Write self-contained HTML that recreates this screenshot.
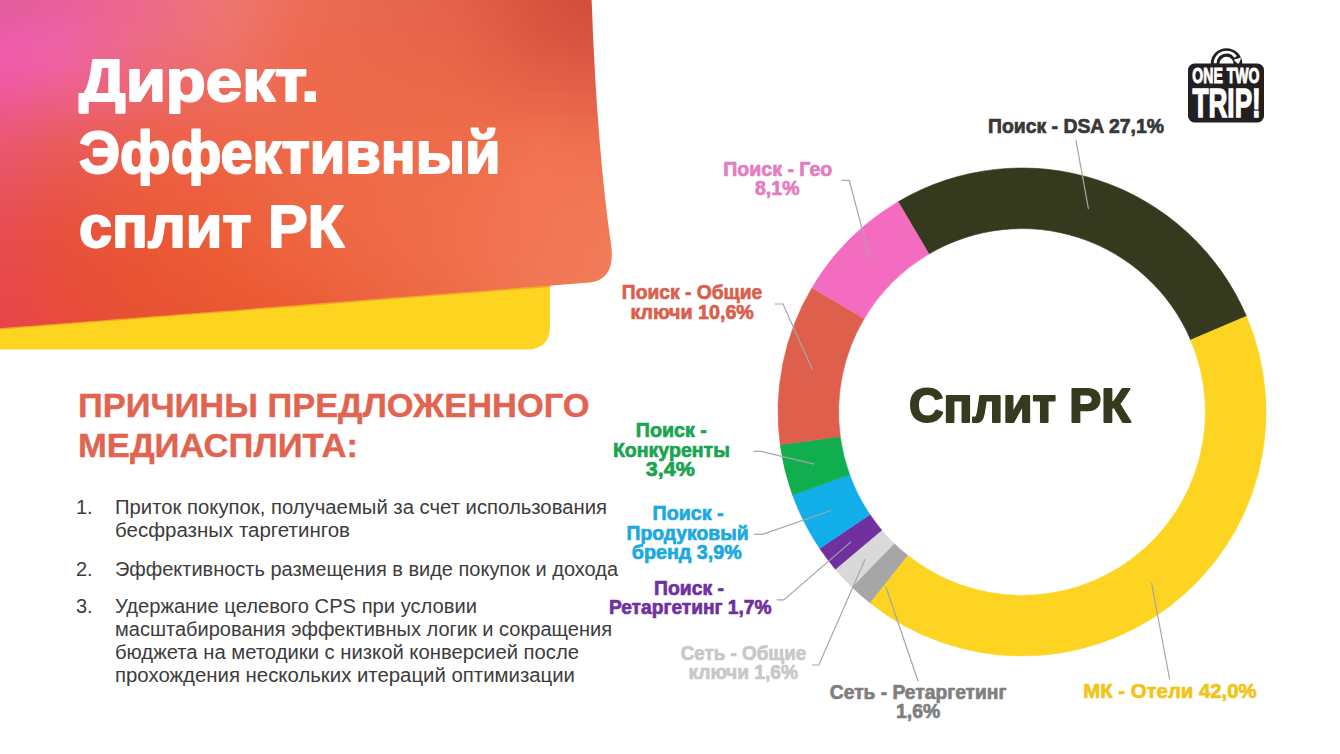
<!DOCTYPE html>
<html><head><meta charset="utf-8">
<style>
html,body{margin:0;padding:0;background:#fff;width:1340px;height:754px;overflow:hidden}
svg{display:block}
text{font-family:"Liberation Sans",sans-serif}
</style></head>
<body>
<svg width="1340" height="754" viewBox="0 0 1340 754">
<defs>
  <linearGradient id="gbase" x1="0" y1="0" x2="1" y2="1">
    <stop offset="0" stop-color="#ec6480"/>
    <stop offset="0.5" stop-color="#ee6548"/>
    <stop offset="1" stop-color="#f37a56"/>
  </linearGradient>
  <radialGradient id="gpink" cx="10" cy="80" r="200" gradientUnits="userSpaceOnUse">
    <stop offset="0" stop-color="#f05cb0" stop-opacity="1"/>
    <stop offset="1" stop-color="#f05cb0" stop-opacity="0"/>
  </radialGradient>
  <radialGradient id="gdark" cx="560" cy="20" r="220" gradientUnits="userSpaceOnUse">
    <stop offset="0" stop-color="#d04a3a" stop-opacity="1"/>
    <stop offset="1" stop-color="#d04a3a" stop-opacity="0"/>
  </radialGradient>
  <radialGradient id="gred" cx="0" cy="320" r="220" gradientUnits="userSpaceOnUse">
    <stop offset="0" stop-color="#e8404a" stop-opacity="1"/>
    <stop offset="1" stop-color="#e8404a" stop-opacity="0"/>
  </radialGradient>
  <clipPath id="hclip"><path id="hpath" d="M0 0 L591.6 0 Q597 150 611.5 248 Q614.5 279.5 590 282.5 L0 328.3 Z"/></clipPath>
</defs>

<!-- yellow -->
<path d="M0 270 L550 270 L550 326 Q550 349.5 526.5 349.5 L0 349.5 Z" fill="#fdd520"/>
<path d="M0 328.9 L551 286.2" stroke="#e0742a" stroke-opacity="0.45" stroke-width="1.4" fill="none"/>
<!-- header -->
<g id="hdr" clip-path="url(#hclip)">
<defs><linearGradient id="s0" x1="0" y1="0" x2="610" y2="0" gradientUnits="userSpaceOnUse"><stop offset="0.000" stop-color="#e05e9a"/><stop offset="0.098" stop-color="#ea5e9e"/><stop offset="0.246" stop-color="#ec6a88"/><stop offset="0.377" stop-color="#ee7670"/><stop offset="0.492" stop-color="#ec6c56"/><stop offset="0.738" stop-color="#e4624c"/><stop offset="0.885" stop-color="#d8543e"/><stop offset="1.000" stop-color="#d04a3a"/></linearGradient>
<linearGradient id="s1" x1="0" y1="0" x2="610" y2="0" gradientUnits="userSpaceOnUse"><stop offset="0.000" stop-color="#e15e9c"/><stop offset="0.098" stop-color="#ea5e9f"/><stop offset="0.246" stop-color="#ec6a87"/><stop offset="0.377" stop-color="#ee766f"/><stop offset="0.492" stop-color="#ec6c55"/><stop offset="0.738" stop-color="#e4624c"/><stop offset="0.885" stop-color="#d9553e"/><stop offset="1.000" stop-color="#d14b3b"/></linearGradient>
<linearGradient id="s2" x1="0" y1="0" x2="610" y2="0" gradientUnits="userSpaceOnUse"><stop offset="0.000" stop-color="#e35d9e"/><stop offset="0.098" stop-color="#eb5fa0"/><stop offset="0.246" stop-color="#ec6a87"/><stop offset="0.377" stop-color="#ee756f"/><stop offset="0.492" stop-color="#ec6c55"/><stop offset="0.738" stop-color="#e5634b"/><stop offset="0.885" stop-color="#d9553f"/><stop offset="1.000" stop-color="#d24c3b"/></linearGradient>
<linearGradient id="s3" x1="0" y1="0" x2="610" y2="0" gradientUnits="userSpaceOnUse"><stop offset="0.000" stop-color="#e45da0"/><stop offset="0.098" stop-color="#eb5fa1"/><stop offset="0.246" stop-color="#ec6a86"/><stop offset="0.377" stop-color="#ee756e"/><stop offset="0.492" stop-color="#ec6c54"/><stop offset="0.738" stop-color="#e5634b"/><stop offset="0.885" stop-color="#da553f"/><stop offset="1.000" stop-color="#d24d3c"/></linearGradient>
<linearGradient id="s4" x1="0" y1="0" x2="610" y2="0" gradientUnits="userSpaceOnUse"><stop offset="0.000" stop-color="#e65da3"/><stop offset="0.098" stop-color="#ec60a2"/><stop offset="0.246" stop-color="#ec6a85"/><stop offset="0.377" stop-color="#ee746e"/><stop offset="0.492" stop-color="#ed6b53"/><stop offset="0.738" stop-color="#e6634b"/><stop offset="0.885" stop-color="#da5640"/><stop offset="1.000" stop-color="#d34e3d"/></linearGradient>
<linearGradient id="s5" x1="0" y1="0" x2="610" y2="0" gradientUnits="userSpaceOnUse"><stop offset="0.000" stop-color="#e85ca5"/><stop offset="0.098" stop-color="#ec60a3"/><stop offset="0.246" stop-color="#ec6b85"/><stop offset="0.377" stop-color="#ee746d"/><stop offset="0.492" stop-color="#ed6b53"/><stop offset="0.738" stop-color="#e6634a"/><stop offset="0.885" stop-color="#db5640"/><stop offset="1.000" stop-color="#d44f3e"/></linearGradient>
<linearGradient id="s6" x1="0" y1="0" x2="610" y2="0" gradientUnits="userSpaceOnUse"><stop offset="0.000" stop-color="#e95ca8"/><stop offset="0.098" stop-color="#ed61a4"/><stop offset="0.246" stop-color="#ec6b84"/><stop offset="0.377" stop-color="#ee736d"/><stop offset="0.492" stop-color="#ed6b52"/><stop offset="0.738" stop-color="#e7644a"/><stop offset="0.885" stop-color="#db5741"/><stop offset="1.000" stop-color="#d5503f"/></linearGradient>
<linearGradient id="s7" x1="0" y1="0" x2="610" y2="0" gradientUnits="userSpaceOnUse"><stop offset="0.000" stop-color="#eb5caa"/><stop offset="0.098" stop-color="#ed61a4"/><stop offset="0.246" stop-color="#ec6b83"/><stop offset="0.377" stop-color="#ee736c"/><stop offset="0.492" stop-color="#ed6b51"/><stop offset="0.738" stop-color="#e86449"/><stop offset="0.885" stop-color="#dc5841"/><stop offset="1.000" stop-color="#d75140"/></linearGradient>
<linearGradient id="s8" x1="0" y1="0" x2="610" y2="0" gradientUnits="userSpaceOnUse"><stop offset="0.000" stop-color="#ec5bac"/><stop offset="0.098" stop-color="#ed62a5"/><stop offset="0.246" stop-color="#ec6b81"/><stop offset="0.377" stop-color="#ee726b"/><stop offset="0.492" stop-color="#ee6a50"/><stop offset="0.738" stop-color="#e86549"/><stop offset="0.885" stop-color="#dd5842"/><stop offset="1.000" stop-color="#d85341"/></linearGradient>
<linearGradient id="s9" x1="0" y1="0" x2="610" y2="0" gradientUnits="userSpaceOnUse"><stop offset="0.000" stop-color="#ee5bad"/><stop offset="0.098" stop-color="#ee62a4"/><stop offset="0.246" stop-color="#ec6b80"/><stop offset="0.377" stop-color="#ee726a"/><stop offset="0.492" stop-color="#ee6a50"/><stop offset="0.738" stop-color="#e96549"/><stop offset="0.885" stop-color="#de5942"/><stop offset="1.000" stop-color="#d95442"/></linearGradient>
<linearGradient id="s10" x1="0" y1="0" x2="610" y2="0" gradientUnits="userSpaceOnUse"><stop offset="0.000" stop-color="#ef5bad"/><stop offset="0.098" stop-color="#ee62a3"/><stop offset="0.246" stop-color="#ec6a7e"/><stop offset="0.377" stop-color="#ee7168"/><stop offset="0.492" stop-color="#ee6a4f"/><stop offset="0.738" stop-color="#e96548"/><stop offset="0.885" stop-color="#df5a43"/><stop offset="1.000" stop-color="#da5643"/></linearGradient>
<linearGradient id="s11" x1="0" y1="0" x2="610" y2="0" gradientUnits="userSpaceOnUse"><stop offset="0.000" stop-color="#f05aad"/><stop offset="0.098" stop-color="#ee62a1"/><stop offset="0.246" stop-color="#ec6a7b"/><stop offset="0.377" stop-color="#ee7067"/><stop offset="0.492" stop-color="#ee6a4e"/><stop offset="0.738" stop-color="#ea6648"/><stop offset="0.885" stop-color="#e05b44"/><stop offset="1.000" stop-color="#db5744"/></linearGradient>
<linearGradient id="s12" x1="0" y1="0" x2="610" y2="0" gradientUnits="userSpaceOnUse"><stop offset="0.000" stop-color="#f05aab"/><stop offset="0.098" stop-color="#ee629f"/><stop offset="0.246" stop-color="#ec6a79"/><stop offset="0.377" stop-color="#ee7065"/><stop offset="0.492" stop-color="#ee6a4e"/><stop offset="0.738" stop-color="#ea6648"/><stop offset="0.885" stop-color="#e05c44"/><stop offset="1.000" stop-color="#dc5944"/></linearGradient>
<linearGradient id="s13" x1="0" y1="0" x2="610" y2="0" gradientUnits="userSpaceOnUse"><stop offset="0.000" stop-color="#f05aaa"/><stop offset="0.098" stop-color="#ee629d"/><stop offset="0.246" stop-color="#ec6a77"/><stop offset="0.377" stop-color="#ee6f64"/><stop offset="0.492" stop-color="#ee6a4d"/><stop offset="0.738" stop-color="#ea6648"/><stop offset="0.885" stop-color="#e15d45"/><stop offset="1.000" stop-color="#dd5a45"/></linearGradient>
<linearGradient id="s14" x1="0" y1="0" x2="610" y2="0" gradientUnits="userSpaceOnUse"><stop offset="0.000" stop-color="#f059a7"/><stop offset="0.098" stop-color="#ee629a"/><stop offset="0.246" stop-color="#ec6975"/><stop offset="0.377" stop-color="#ee6f63"/><stop offset="0.492" stop-color="#ee6a4d"/><stop offset="0.738" stop-color="#eb6748"/><stop offset="0.885" stop-color="#e25e45"/><stop offset="1.000" stop-color="#de5b46"/></linearGradient>
<linearGradient id="s15" x1="0" y1="0" x2="610" y2="0" gradientUnits="userSpaceOnUse"><stop offset="0.000" stop-color="#f059a5"/><stop offset="0.098" stop-color="#ee6196"/><stop offset="0.246" stop-color="#ec6972"/><stop offset="0.377" stop-color="#ee6e61"/><stop offset="0.492" stop-color="#ee6a4d"/><stop offset="0.738" stop-color="#eb6748"/><stop offset="0.885" stop-color="#e36046"/><stop offset="1.000" stop-color="#df5c46"/></linearGradient>
<linearGradient id="s16" x1="0" y1="0" x2="610" y2="0" gradientUnits="userSpaceOnUse"><stop offset="0.000" stop-color="#f059a2"/><stop offset="0.098" stop-color="#ed6193"/><stop offset="0.246" stop-color="#ec686f"/><stop offset="0.377" stop-color="#ee6d5f"/><stop offset="0.492" stop-color="#ee6a4c"/><stop offset="0.738" stop-color="#eb6748"/><stop offset="0.885" stop-color="#e46147"/><stop offset="1.000" stop-color="#e05e47"/></linearGradient>
<linearGradient id="s17" x1="0" y1="0" x2="610" y2="0" gradientUnits="userSpaceOnUse"><stop offset="0.000" stop-color="#f0599e"/><stop offset="0.098" stop-color="#ed618f"/><stop offset="0.246" stop-color="#ec686c"/><stop offset="0.377" stop-color="#ee6d5d"/><stop offset="0.492" stop-color="#ee6a4c"/><stop offset="0.738" stop-color="#ec6848"/><stop offset="0.885" stop-color="#e56247"/><stop offset="1.000" stop-color="#e25f48"/></linearGradient>
<linearGradient id="s18" x1="0" y1="0" x2="610" y2="0" gradientUnits="userSpaceOnUse"><stop offset="0.000" stop-color="#ef599b"/><stop offset="0.098" stop-color="#ed608a"/><stop offset="0.246" stop-color="#ec6769"/><stop offset="0.377" stop-color="#ee6c5b"/><stop offset="0.492" stop-color="#ee6a4c"/><stop offset="0.738" stop-color="#ec6848"/><stop offset="0.885" stop-color="#e66448"/><stop offset="1.000" stop-color="#e36148"/></linearGradient>
<linearGradient id="s19" x1="0" y1="0" x2="610" y2="0" gradientUnits="userSpaceOnUse"><stop offset="0.000" stop-color="#ef5997"/><stop offset="0.098" stop-color="#ec6086"/><stop offset="0.246" stop-color="#ec6666"/><stop offset="0.377" stop-color="#ee6b59"/><stop offset="0.492" stop-color="#ee6a4b"/><stop offset="0.738" stop-color="#ec6948"/><stop offset="0.885" stop-color="#e76549"/><stop offset="1.000" stop-color="#e46249"/></linearGradient>
<linearGradient id="s20" x1="0" y1="0" x2="610" y2="0" gradientUnits="userSpaceOnUse"><stop offset="0.000" stop-color="#ee5893"/><stop offset="0.098" stop-color="#ec5f81"/><stop offset="0.246" stop-color="#ec6663"/><stop offset="0.377" stop-color="#ee6a57"/><stop offset="0.492" stop-color="#ee6a4b"/><stop offset="0.738" stop-color="#ed6949"/><stop offset="0.885" stop-color="#e8674a"/><stop offset="1.000" stop-color="#e5634a"/></linearGradient>
<linearGradient id="s21" x1="0" y1="0" x2="610" y2="0" gradientUnits="userSpaceOnUse"><stop offset="0.000" stop-color="#ee588f"/><stop offset="0.098" stop-color="#ec5f7d"/><stop offset="0.246" stop-color="#ec6560"/><stop offset="0.377" stop-color="#ee6a55"/><stop offset="0.492" stop-color="#ee6a4b"/><stop offset="0.738" stop-color="#ed6949"/><stop offset="0.885" stop-color="#e9684b"/><stop offset="1.000" stop-color="#e6654a"/></linearGradient>
<linearGradient id="s22" x1="0" y1="0" x2="610" y2="0" gradientUnits="userSpaceOnUse"><stop offset="0.000" stop-color="#ed588b"/><stop offset="0.098" stop-color="#eb5e78"/><stop offset="0.246" stop-color="#ec655c"/><stop offset="0.377" stop-color="#ee6953"/><stop offset="0.492" stop-color="#ee6a4b"/><stop offset="0.738" stop-color="#ed6a49"/><stop offset="0.885" stop-color="#ea694b"/><stop offset="1.000" stop-color="#e7664b"/></linearGradient>
<linearGradient id="s23" x1="0" y1="0" x2="610" y2="0" gradientUnits="userSpaceOnUse"><stop offset="0.000" stop-color="#ed5887"/><stop offset="0.098" stop-color="#eb5e73"/><stop offset="0.246" stop-color="#ec6459"/><stop offset="0.377" stop-color="#ee6851"/><stop offset="0.492" stop-color="#ee6a4a"/><stop offset="0.738" stop-color="#ee6a49"/><stop offset="0.885" stop-color="#eb6b4c"/><stop offset="1.000" stop-color="#e8684c"/></linearGradient>
<linearGradient id="s24" x1="0" y1="0" x2="610" y2="0" gradientUnits="userSpaceOnUse"><stop offset="0.000" stop-color="#ec5883"/><stop offset="0.098" stop-color="#eb5d6f"/><stop offset="0.246" stop-color="#ec6356"/><stop offset="0.377" stop-color="#ee674f"/><stop offset="0.492" stop-color="#ee6a4a"/><stop offset="0.738" stop-color="#ee6a49"/><stop offset="0.885" stop-color="#ec6c4d"/><stop offset="1.000" stop-color="#e9694d"/></linearGradient>
<linearGradient id="s25" x1="0" y1="0" x2="610" y2="0" gradientUnits="userSpaceOnUse"><stop offset="0.000" stop-color="#ec577f"/><stop offset="0.098" stop-color="#ea5c6a"/><stop offset="0.246" stop-color="#ec6353"/><stop offset="0.377" stop-color="#ee674d"/><stop offset="0.492" stop-color="#ee6a4a"/><stop offset="0.738" stop-color="#ee6b49"/><stop offset="0.885" stop-color="#ed6d4d"/><stop offset="1.000" stop-color="#ea6b4d"/></linearGradient>
<linearGradient id="s26" x1="0" y1="0" x2="610" y2="0" gradientUnits="userSpaceOnUse"><stop offset="0.000" stop-color="#eb577b"/><stop offset="0.098" stop-color="#ea5c66"/><stop offset="0.246" stop-color="#ec6250"/><stop offset="0.377" stop-color="#ee664b"/><stop offset="0.492" stop-color="#ee6a49"/><stop offset="0.738" stop-color="#ee6b4a"/><stop offset="0.885" stop-color="#ee6f4e"/><stop offset="1.000" stop-color="#eb6c4e"/></linearGradient>
<linearGradient id="s27" x1="0" y1="0" x2="610" y2="0" gradientUnits="userSpaceOnUse"><stop offset="0.000" stop-color="#eb5777"/><stop offset="0.098" stop-color="#ea5b62"/><stop offset="0.246" stop-color="#ec614e"/><stop offset="0.377" stop-color="#ee654a"/><stop offset="0.492" stop-color="#ee6a49"/><stop offset="0.738" stop-color="#ef6b4a"/><stop offset="0.885" stop-color="#ee704f"/><stop offset="1.000" stop-color="#ec6d4f"/></linearGradient>
<linearGradient id="s28" x1="0" y1="0" x2="610" y2="0" gradientUnits="userSpaceOnUse"><stop offset="0.000" stop-color="#ea5774"/><stop offset="0.098" stop-color="#e95b5f"/><stop offset="0.246" stop-color="#ec614b"/><stop offset="0.377" stop-color="#ee6548"/><stop offset="0.492" stop-color="#ee6a49"/><stop offset="0.738" stop-color="#ef6c4a"/><stop offset="0.885" stop-color="#ef714f"/><stop offset="1.000" stop-color="#ed6e4f"/></linearGradient>
<linearGradient id="s29" x1="0" y1="0" x2="610" y2="0" gradientUnits="userSpaceOnUse"><stop offset="0.000" stop-color="#ea5671"/><stop offset="0.098" stop-color="#e95a5b"/><stop offset="0.246" stop-color="#ec6049"/><stop offset="0.377" stop-color="#ee6447"/><stop offset="0.492" stop-color="#ee6a48"/><stop offset="0.738" stop-color="#ef6c4a"/><stop offset="0.885" stop-color="#f07250"/><stop offset="1.000" stop-color="#ee7050"/></linearGradient>
<linearGradient id="s30" x1="0" y1="0" x2="610" y2="0" gradientUnits="userSpaceOnUse"><stop offset="0.000" stop-color="#ea566f"/><stop offset="0.098" stop-color="#e95a59"/><stop offset="0.246" stop-color="#ec6047"/><stop offset="0.377" stop-color="#ee6445"/><stop offset="0.492" stop-color="#ee6a48"/><stop offset="0.738" stop-color="#ef6c4a"/><stop offset="0.885" stop-color="#f07250"/><stop offset="1.000" stop-color="#ee7050"/></linearGradient>
<linearGradient id="s31" x1="0" y1="0" x2="610" y2="0" gradientUnits="userSpaceOnUse"><stop offset="0.000" stop-color="#ea556c"/><stop offset="0.098" stop-color="#e95956"/><stop offset="0.246" stop-color="#ec5f45"/><stop offset="0.377" stop-color="#ee6344"/><stop offset="0.492" stop-color="#ee6a47"/><stop offset="0.738" stop-color="#ef6c4a"/><stop offset="0.885" stop-color="#f17351"/><stop offset="1.000" stop-color="#ef7151"/></linearGradient>
<linearGradient id="s32" x1="0" y1="0" x2="610" y2="0" gradientUnits="userSpaceOnUse"><stop offset="0.000" stop-color="#e9556a"/><stop offset="0.098" stop-color="#e95954"/><stop offset="0.246" stop-color="#ec5f44"/><stop offset="0.377" stop-color="#ee6343"/><stop offset="0.492" stop-color="#ee6a47"/><stop offset="0.738" stop-color="#ef6d4a"/><stop offset="0.885" stop-color="#f17351"/><stop offset="1.000" stop-color="#ef7251"/></linearGradient>
<linearGradient id="s33" x1="0" y1="0" x2="610" y2="0" gradientUnits="userSpaceOnUse"><stop offset="0.000" stop-color="#e95468"/><stop offset="0.098" stop-color="#e95852"/><stop offset="0.246" stop-color="#ec5e42"/><stop offset="0.377" stop-color="#ee6242"/><stop offset="0.492" stop-color="#ee6947"/><stop offset="0.738" stop-color="#ef6d4b"/><stop offset="0.885" stop-color="#f17451"/><stop offset="1.000" stop-color="#f07352"/></linearGradient>
<linearGradient id="s34" x1="0" y1="0" x2="610" y2="0" gradientUnits="userSpaceOnUse"><stop offset="0.000" stop-color="#e95466"/><stop offset="0.098" stop-color="#e8584f"/><stop offset="0.246" stop-color="#ec5e41"/><stop offset="0.377" stop-color="#ee6241"/><stop offset="0.492" stop-color="#ee6946"/><stop offset="0.738" stop-color="#f06d4b"/><stop offset="0.885" stop-color="#f27452"/><stop offset="1.000" stop-color="#f07452"/></linearGradient>
<linearGradient id="s35" x1="0" y1="0" x2="610" y2="0" gradientUnits="userSpaceOnUse"><stop offset="0.000" stop-color="#e95364"/><stop offset="0.098" stop-color="#e8574e"/><stop offset="0.246" stop-color="#ec5d40"/><stop offset="0.377" stop-color="#ee6240"/><stop offset="0.492" stop-color="#ee6946"/><stop offset="0.738" stop-color="#f06d4b"/><stop offset="0.885" stop-color="#f27552"/><stop offset="1.000" stop-color="#f07453"/></linearGradient>
<linearGradient id="s36" x1="0" y1="0" x2="610" y2="0" gradientUnits="userSpaceOnUse"><stop offset="0.000" stop-color="#e95362"/><stop offset="0.098" stop-color="#e8564c"/><stop offset="0.246" stop-color="#eb5d3f"/><stop offset="0.377" stop-color="#ed613f"/><stop offset="0.492" stop-color="#ee6845"/><stop offset="0.738" stop-color="#f06d4b"/><stop offset="0.885" stop-color="#f27552"/><stop offset="1.000" stop-color="#f17554"/></linearGradient>
<linearGradient id="s37" x1="0" y1="0" x2="610" y2="0" gradientUnits="userSpaceOnUse"><stop offset="0.000" stop-color="#e95260"/><stop offset="0.098" stop-color="#e8564a"/><stop offset="0.246" stop-color="#eb5c3e"/><stop offset="0.377" stop-color="#ed613e"/><stop offset="0.492" stop-color="#ee6845"/><stop offset="0.738" stop-color="#f06d4b"/><stop offset="0.885" stop-color="#f27553"/><stop offset="1.000" stop-color="#f17654"/></linearGradient>
<linearGradient id="s38" x1="0" y1="0" x2="610" y2="0" gradientUnits="userSpaceOnUse"><stop offset="0.000" stop-color="#e9525f"/><stop offset="0.098" stop-color="#e85548"/><stop offset="0.246" stop-color="#eb5c3d"/><stop offset="0.377" stop-color="#ed613e"/><stop offset="0.492" stop-color="#ee6845"/><stop offset="0.738" stop-color="#f06e4b"/><stop offset="0.885" stop-color="#f27553"/><stop offset="1.000" stop-color="#f17655"/></linearGradient>
<linearGradient id="s39" x1="0" y1="0" x2="610" y2="0" gradientUnits="userSpaceOnUse"><stop offset="0.000" stop-color="#e9515d"/><stop offset="0.098" stop-color="#e85547"/><stop offset="0.246" stop-color="#eb5c3c"/><stop offset="0.377" stop-color="#ed613d"/><stop offset="0.492" stop-color="#ee6744"/><stop offset="0.738" stop-color="#f06e4c"/><stop offset="0.885" stop-color="#f27553"/><stop offset="1.000" stop-color="#f17755"/></linearGradient>
<linearGradient id="s40" x1="0" y1="0" x2="610" y2="0" gradientUnits="userSpaceOnUse"><stop offset="0.000" stop-color="#e8505b"/><stop offset="0.098" stop-color="#e85446"/><stop offset="0.246" stop-color="#eb5b3b"/><stop offset="0.377" stop-color="#ed603c"/><stop offset="0.492" stop-color="#ee6744"/><stop offset="0.738" stop-color="#f06e4c"/><stop offset="0.885" stop-color="#f27553"/><stop offset="1.000" stop-color="#f17755"/></linearGradient>
<linearGradient id="s41" x1="0" y1="0" x2="610" y2="0" gradientUnits="userSpaceOnUse"><stop offset="0.000" stop-color="#e8505a"/><stop offset="0.098" stop-color="#e85344"/><stop offset="0.246" stop-color="#eb5b3a"/><stop offset="0.377" stop-color="#ed603c"/><stop offset="0.492" stop-color="#ee6743"/><stop offset="0.738" stop-color="#f06e4c"/><stop offset="0.885" stop-color="#f27553"/><stop offset="1.000" stop-color="#f17856"/></linearGradient>
<linearGradient id="s42" x1="0" y1="0" x2="610" y2="0" gradientUnits="userSpaceOnUse"><stop offset="0.000" stop-color="#e84f59"/><stop offset="0.098" stop-color="#e85343"/><stop offset="0.246" stop-color="#eb5a3a"/><stop offset="0.377" stop-color="#ed603b"/><stop offset="0.492" stop-color="#ee6643"/><stop offset="0.738" stop-color="#f06e4c"/><stop offset="0.885" stop-color="#f27653"/><stop offset="1.000" stop-color="#f27856"/></linearGradient>
<linearGradient id="s43" x1="0" y1="0" x2="610" y2="0" gradientUnits="userSpaceOnUse"><stop offset="0.000" stop-color="#e84e57"/><stop offset="0.098" stop-color="#e85242"/><stop offset="0.246" stop-color="#eb5a39"/><stop offset="0.377" stop-color="#ed603b"/><stop offset="0.492" stop-color="#ee6642"/><stop offset="0.738" stop-color="#f06e4c"/><stop offset="0.885" stop-color="#f27654"/><stop offset="1.000" stop-color="#f27857"/></linearGradient>
<linearGradient id="s44" x1="0" y1="0" x2="610" y2="0" gradientUnits="userSpaceOnUse"><stop offset="0.000" stop-color="#e84e56"/><stop offset="0.098" stop-color="#e85241"/><stop offset="0.246" stop-color="#ea5938"/><stop offset="0.377" stop-color="#ec5f3a"/><stop offset="0.492" stop-color="#ee6642"/><stop offset="0.738" stop-color="#f06e4c"/><stop offset="0.885" stop-color="#f27654"/><stop offset="1.000" stop-color="#f27957"/></linearGradient>
<linearGradient id="s45" x1="0" y1="0" x2="610" y2="0" gradientUnits="userSpaceOnUse"><stop offset="0.000" stop-color="#e84d55"/><stop offset="0.098" stop-color="#e85140"/><stop offset="0.246" stop-color="#ea5938"/><stop offset="0.377" stop-color="#ec5f39"/><stop offset="0.492" stop-color="#ee6541"/><stop offset="0.738" stop-color="#f06e4c"/><stop offset="0.885" stop-color="#f27654"/><stop offset="1.000" stop-color="#f27957"/></linearGradient>
<linearGradient id="s46" x1="0" y1="0" x2="610" y2="0" gradientUnits="userSpaceOnUse"><stop offset="0.000" stop-color="#e84d54"/><stop offset="0.098" stop-color="#e8513f"/><stop offset="0.246" stop-color="#ea5937"/><stop offset="0.377" stop-color="#ec5f39"/><stop offset="0.492" stop-color="#ee6541"/><stop offset="0.738" stop-color="#f06e4c"/><stop offset="0.885" stop-color="#f27654"/><stop offset="1.000" stop-color="#f27958"/></linearGradient>
<linearGradient id="s47" x1="0" y1="0" x2="610" y2="0" gradientUnits="userSpaceOnUse"><stop offset="0.000" stop-color="#e84c53"/><stop offset="0.098" stop-color="#e8503e"/><stop offset="0.246" stop-color="#ea5836"/><stop offset="0.377" stop-color="#ec5e38"/><stop offset="0.492" stop-color="#ee6440"/><stop offset="0.738" stop-color="#f06e4c"/><stop offset="0.885" stop-color="#f27654"/><stop offset="1.000" stop-color="#f27a58"/></linearGradient>
<linearGradient id="s48" x1="0" y1="0" x2="610" y2="0" gradientUnits="userSpaceOnUse"><stop offset="0.000" stop-color="#e84c51"/><stop offset="0.098" stop-color="#e8503e"/><stop offset="0.246" stop-color="#ea5836"/><stop offset="0.377" stop-color="#ec5e38"/><stop offset="0.492" stop-color="#ee6440"/><stop offset="0.738" stop-color="#f06e4c"/><stop offset="0.885" stop-color="#f27654"/><stop offset="1.000" stop-color="#f27a58"/></linearGradient>
<linearGradient id="s49" x1="0" y1="0" x2="610" y2="0" gradientUnits="userSpaceOnUse"><stop offset="0.000" stop-color="#e84b51"/><stop offset="0.098" stop-color="#e84f3d"/><stop offset="0.246" stop-color="#ea5735"/><stop offset="0.377" stop-color="#ec5d37"/><stop offset="0.492" stop-color="#ee633f"/><stop offset="0.738" stop-color="#f06e4c"/><stop offset="0.885" stop-color="#f27654"/><stop offset="1.000" stop-color="#f27a58"/></linearGradient>
<linearGradient id="s50" x1="0" y1="0" x2="610" y2="0" gradientUnits="userSpaceOnUse"><stop offset="0.000" stop-color="#e84b50"/><stop offset="0.098" stop-color="#e84f3c"/><stop offset="0.246" stop-color="#ea5734"/><stop offset="0.377" stop-color="#ec5d37"/><stop offset="0.492" stop-color="#ee633e"/><stop offset="0.738" stop-color="#f06e4c"/><stop offset="0.885" stop-color="#f27654"/><stop offset="1.000" stop-color="#f27b58"/></linearGradient>
<linearGradient id="s51" x1="0" y1="0" x2="610" y2="0" gradientUnits="userSpaceOnUse"><stop offset="0.000" stop-color="#e84a4f"/><stop offset="0.098" stop-color="#e84e3c"/><stop offset="0.246" stop-color="#ea5734"/><stop offset="0.377" stop-color="#ec5c36"/><stop offset="0.492" stop-color="#ed623e"/><stop offset="0.738" stop-color="#f06e4b"/><stop offset="0.885" stop-color="#f27754"/><stop offset="1.000" stop-color="#f27b59"/></linearGradient>
<linearGradient id="s52" x1="0" y1="0" x2="610" y2="0" gradientUnits="userSpaceOnUse"><stop offset="0.000" stop-color="#e84a4e"/><stop offset="0.098" stop-color="#e84e3c"/><stop offset="0.246" stop-color="#e95634"/><stop offset="0.377" stop-color="#eb5c36"/><stop offset="0.492" stop-color="#ed623d"/><stop offset="0.738" stop-color="#f06d4b"/><stop offset="0.885" stop-color="#f27754"/><stop offset="1.000" stop-color="#f27b59"/></linearGradient>
<linearGradient id="s53" x1="0" y1="0" x2="610" y2="0" gradientUnits="userSpaceOnUse"><stop offset="0.000" stop-color="#e8494e"/><stop offset="0.098" stop-color="#e84e3b"/><stop offset="0.246" stop-color="#e95633"/><stop offset="0.377" stop-color="#eb5b35"/><stop offset="0.492" stop-color="#ed613c"/><stop offset="0.738" stop-color="#f06d4b"/><stop offset="0.885" stop-color="#f27754"/><stop offset="1.000" stop-color="#f27b59"/></linearGradient>
<linearGradient id="s54" x1="0" y1="0" x2="610" y2="0" gradientUnits="userSpaceOnUse"><stop offset="0.000" stop-color="#e8494d"/><stop offset="0.098" stop-color="#e84d3b"/><stop offset="0.246" stop-color="#e95533"/><stop offset="0.377" stop-color="#eb5b35"/><stop offset="0.492" stop-color="#ed603b"/><stop offset="0.738" stop-color="#ef6d4a"/><stop offset="0.885" stop-color="#f17754"/><stop offset="1.000" stop-color="#f27b59"/></linearGradient>
<linearGradient id="s55" x1="0" y1="0" x2="610" y2="0" gradientUnits="userSpaceOnUse"><stop offset="0.000" stop-color="#e8484d"/><stop offset="0.098" stop-color="#e84d3b"/><stop offset="0.246" stop-color="#e95532"/><stop offset="0.377" stop-color="#eb5a35"/><stop offset="0.492" stop-color="#ec603b"/><stop offset="0.738" stop-color="#ef6d4a"/><stop offset="0.885" stop-color="#f17753"/><stop offset="1.000" stop-color="#f27c59"/></linearGradient>
<linearGradient id="s56" x1="0" y1="0" x2="610" y2="0" gradientUnits="userSpaceOnUse"><stop offset="0.000" stop-color="#e8484c"/><stop offset="0.098" stop-color="#e84d3b"/><stop offset="0.246" stop-color="#e95532"/><stop offset="0.377" stop-color="#eb5a34"/><stop offset="0.492" stop-color="#ec5f3a"/><stop offset="0.738" stop-color="#ef6c49"/><stop offset="0.885" stop-color="#f17753"/><stop offset="1.000" stop-color="#f27c59"/></linearGradient>
<linearGradient id="s57" x1="0" y1="0" x2="610" y2="0" gradientUnits="userSpaceOnUse"><stop offset="0.000" stop-color="#e8474c"/><stop offset="0.098" stop-color="#e84c3b"/><stop offset="0.246" stop-color="#e95432"/><stop offset="0.377" stop-color="#eb5934"/><stop offset="0.492" stop-color="#ec5e39"/><stop offset="0.738" stop-color="#ef6c49"/><stop offset="0.885" stop-color="#f17753"/><stop offset="1.000" stop-color="#f27c58"/></linearGradient>
<linearGradient id="s58" x1="0" y1="0" x2="610" y2="0" gradientUnits="userSpaceOnUse"><stop offset="0.000" stop-color="#e8474c"/><stop offset="0.098" stop-color="#e84c3b"/><stop offset="0.246" stop-color="#e95431"/><stop offset="0.377" stop-color="#eb5934"/><stop offset="0.492" stop-color="#ec5e38"/><stop offset="0.738" stop-color="#ef6c48"/><stop offset="0.885" stop-color="#f17753"/><stop offset="1.000" stop-color="#f27c58"/></linearGradient>
<linearGradient id="s59" x1="0" y1="0" x2="610" y2="0" gradientUnits="userSpaceOnUse"><stop offset="0.000" stop-color="#e8464b"/><stop offset="0.098" stop-color="#e84c3b"/><stop offset="0.246" stop-color="#e95431"/><stop offset="0.377" stop-color="#eb5833"/><stop offset="0.492" stop-color="#eb5d38"/><stop offset="0.738" stop-color="#ef6b48"/><stop offset="0.885" stop-color="#f17853"/><stop offset="1.000" stop-color="#f27c58"/></linearGradient>
<linearGradient id="s60" x1="0" y1="0" x2="610" y2="0" gradientUnits="userSpaceOnUse"><stop offset="0.000" stop-color="#e8464b"/><stop offset="0.098" stop-color="#e84b3c"/><stop offset="0.246" stop-color="#e85331"/><stop offset="0.377" stop-color="#ea5833"/><stop offset="0.492" stop-color="#eb5c37"/><stop offset="0.738" stop-color="#ef6b48"/><stop offset="0.885" stop-color="#f17853"/><stop offset="1.000" stop-color="#f27c58"/></linearGradient>
<linearGradient id="s61" x1="0" y1="0" x2="610" y2="0" gradientUnits="userSpaceOnUse"><stop offset="0.000" stop-color="#e8454b"/><stop offset="0.098" stop-color="#e84b3c"/><stop offset="0.246" stop-color="#e85331"/><stop offset="0.377" stop-color="#ea5733"/><stop offset="0.492" stop-color="#eb5c36"/><stop offset="0.738" stop-color="#ee6b47"/><stop offset="0.885" stop-color="#f07852"/><stop offset="1.000" stop-color="#f27c58"/></linearGradient>
<linearGradient id="s62" x1="0" y1="0" x2="610" y2="0" gradientUnits="userSpaceOnUse"><stop offset="0.000" stop-color="#e8454b"/><stop offset="0.098" stop-color="#e84b3c"/><stop offset="0.246" stop-color="#e85331"/><stop offset="0.377" stop-color="#ea5733"/><stop offset="0.492" stop-color="#eb5b36"/><stop offset="0.738" stop-color="#ee6b47"/><stop offset="0.885" stop-color="#f07852"/><stop offset="1.000" stop-color="#f27c58"/></linearGradient>
<linearGradient id="s63" x1="0" y1="0" x2="610" y2="0" gradientUnits="userSpaceOnUse"><stop offset="0.000" stop-color="#e8454b"/><stop offset="0.098" stop-color="#e84a3c"/><stop offset="0.246" stop-color="#e85330"/><stop offset="0.377" stop-color="#ea5732"/><stop offset="0.492" stop-color="#ea5b35"/><stop offset="0.738" stop-color="#ee6a47"/><stop offset="0.885" stop-color="#f07852"/><stop offset="1.000" stop-color="#f27c58"/></linearGradient>
<linearGradient id="s64" x1="0" y1="0" x2="610" y2="0" gradientUnits="userSpaceOnUse"><stop offset="0.000" stop-color="#e8444a"/><stop offset="0.098" stop-color="#e84a3c"/><stop offset="0.246" stop-color="#e85230"/><stop offset="0.377" stop-color="#ea5632"/><stop offset="0.492" stop-color="#ea5a35"/><stop offset="0.738" stop-color="#ee6a46"/><stop offset="0.885" stop-color="#f07852"/><stop offset="1.000" stop-color="#f27c58"/></linearGradient>
<linearGradient id="s65" x1="0" y1="0" x2="610" y2="0" gradientUnits="userSpaceOnUse"><stop offset="0.000" stop-color="#e8444a"/><stop offset="0.098" stop-color="#e84a3c"/><stop offset="0.246" stop-color="#e85230"/><stop offset="0.377" stop-color="#ea5632"/><stop offset="0.492" stop-color="#ea5a34"/><stop offset="0.738" stop-color="#ee6a46"/><stop offset="0.885" stop-color="#f07852"/><stop offset="1.000" stop-color="#f27c58"/></linearGradient>
<linearGradient id="s66" x1="0" y1="0" x2="610" y2="0" gradientUnits="userSpaceOnUse"><stop offset="0.000" stop-color="#e8444a"/><stop offset="0.098" stop-color="#e84a3c"/><stop offset="0.246" stop-color="#e85230"/><stop offset="0.377" stop-color="#ea5632"/><stop offset="0.492" stop-color="#ea5a34"/><stop offset="0.738" stop-color="#ee6a46"/><stop offset="0.885" stop-color="#f07852"/><stop offset="1.000" stop-color="#f27c58"/></linearGradient></defs>
<rect x="0" y="0" width="620" height="5.5" fill="url(#s0)"/>
<rect x="0" y="5" width="620" height="5.5" fill="url(#s1)"/>
<rect x="0" y="10" width="620" height="5.5" fill="url(#s2)"/>
<rect x="0" y="15" width="620" height="5.5" fill="url(#s3)"/>
<rect x="0" y="20" width="620" height="5.5" fill="url(#s4)"/>
<rect x="0" y="25" width="620" height="5.5" fill="url(#s5)"/>
<rect x="0" y="30" width="620" height="5.5" fill="url(#s6)"/>
<rect x="0" y="35" width="620" height="5.5" fill="url(#s7)"/>
<rect x="0" y="40" width="620" height="5.5" fill="url(#s8)"/>
<rect x="0" y="45" width="620" height="5.5" fill="url(#s9)"/>
<rect x="0" y="50" width="620" height="5.5" fill="url(#s10)"/>
<rect x="0" y="55" width="620" height="5.5" fill="url(#s11)"/>
<rect x="0" y="60" width="620" height="5.5" fill="url(#s12)"/>
<rect x="0" y="65" width="620" height="5.5" fill="url(#s13)"/>
<rect x="0" y="70" width="620" height="5.5" fill="url(#s14)"/>
<rect x="0" y="75" width="620" height="5.5" fill="url(#s15)"/>
<rect x="0" y="80" width="620" height="5.5" fill="url(#s16)"/>
<rect x="0" y="85" width="620" height="5.5" fill="url(#s17)"/>
<rect x="0" y="90" width="620" height="5.5" fill="url(#s18)"/>
<rect x="0" y="95" width="620" height="5.5" fill="url(#s19)"/>
<rect x="0" y="100" width="620" height="5.5" fill="url(#s20)"/>
<rect x="0" y="105" width="620" height="5.5" fill="url(#s21)"/>
<rect x="0" y="110" width="620" height="5.5" fill="url(#s22)"/>
<rect x="0" y="115" width="620" height="5.5" fill="url(#s23)"/>
<rect x="0" y="120" width="620" height="5.5" fill="url(#s24)"/>
<rect x="0" y="125" width="620" height="5.5" fill="url(#s25)"/>
<rect x="0" y="130" width="620" height="5.5" fill="url(#s26)"/>
<rect x="0" y="135" width="620" height="5.5" fill="url(#s27)"/>
<rect x="0" y="140" width="620" height="5.5" fill="url(#s28)"/>
<rect x="0" y="145" width="620" height="5.5" fill="url(#s29)"/>
<rect x="0" y="150" width="620" height="5.5" fill="url(#s30)"/>
<rect x="0" y="155" width="620" height="5.5" fill="url(#s31)"/>
<rect x="0" y="160" width="620" height="5.5" fill="url(#s32)"/>
<rect x="0" y="165" width="620" height="5.5" fill="url(#s33)"/>
<rect x="0" y="170" width="620" height="5.5" fill="url(#s34)"/>
<rect x="0" y="175" width="620" height="5.5" fill="url(#s35)"/>
<rect x="0" y="180" width="620" height="5.5" fill="url(#s36)"/>
<rect x="0" y="185" width="620" height="5.5" fill="url(#s37)"/>
<rect x="0" y="190" width="620" height="5.5" fill="url(#s38)"/>
<rect x="0" y="195" width="620" height="5.5" fill="url(#s39)"/>
<rect x="0" y="200" width="620" height="5.5" fill="url(#s40)"/>
<rect x="0" y="205" width="620" height="5.5" fill="url(#s41)"/>
<rect x="0" y="210" width="620" height="5.5" fill="url(#s42)"/>
<rect x="0" y="215" width="620" height="5.5" fill="url(#s43)"/>
<rect x="0" y="220" width="620" height="5.5" fill="url(#s44)"/>
<rect x="0" y="225" width="620" height="5.5" fill="url(#s45)"/>
<rect x="0" y="230" width="620" height="5.5" fill="url(#s46)"/>
<rect x="0" y="235" width="620" height="5.5" fill="url(#s47)"/>
<rect x="0" y="240" width="620" height="5.5" fill="url(#s48)"/>
<rect x="0" y="245" width="620" height="5.5" fill="url(#s49)"/>
<rect x="0" y="250" width="620" height="5.5" fill="url(#s50)"/>
<rect x="0" y="255" width="620" height="5.5" fill="url(#s51)"/>
<rect x="0" y="260" width="620" height="5.5" fill="url(#s52)"/>
<rect x="0" y="265" width="620" height="5.5" fill="url(#s53)"/>
<rect x="0" y="270" width="620" height="5.5" fill="url(#s54)"/>
<rect x="0" y="275" width="620" height="5.5" fill="url(#s55)"/>
<rect x="0" y="280" width="620" height="5.5" fill="url(#s56)"/>
<rect x="0" y="285" width="620" height="5.5" fill="url(#s57)"/>
<rect x="0" y="290" width="620" height="5.5" fill="url(#s58)"/>
<rect x="0" y="295" width="620" height="5.5" fill="url(#s59)"/>
<rect x="0" y="300" width="620" height="5.5" fill="url(#s60)"/>
<rect x="0" y="305" width="620" height="5.5" fill="url(#s61)"/>
<rect x="0" y="310" width="620" height="5.5" fill="url(#s62)"/>
<rect x="0" y="315" width="620" height="5.5" fill="url(#s63)"/>
<rect x="0" y="320" width="620" height="5.5" fill="url(#s64)"/>
<rect x="0" y="325" width="620" height="5.5" fill="url(#s65)"/>
<rect x="0" y="330" width="620" height="5.5" fill="url(#s66)"/>
</g>

<g fill="#ffffff" stroke="#ffffff" stroke-width="2" stroke-linejoin="round" font-weight="bold" font-size="60">
  <text x="79" y="100.5" textLength="240.5" lengthAdjust="spacingAndGlyphs">Директ.</text>
  <text x="79" y="172.5" textLength="421.5" lengthAdjust="spacingAndGlyphs">Эффективный</text>
  <text x="79" y="246.5" textLength="265" lengthAdjust="spacingAndGlyphs">сплит РК</text>
</g>

<!-- subtitle -->
<g fill="#e0644f" stroke="#e0644f" stroke-width="0.4" font-weight="bold" font-size="34">
  <text x="78" y="417" textLength="511.5" lengthAdjust="spacingAndGlyphs">ПРИЧИНЫ ПРЕДЛОЖЕННОГО</text>
  <text x="78" y="456.8" textLength="280" lengthAdjust="spacingAndGlyphs">МЕДИАСПЛИТА:</text>
</g>

<!-- list -->
<g fill="#3c3c3c" font-size="20">
  <text x="76" y="514.3">1.</text>
  <text x="115" y="514.3" textLength="492" lengthAdjust="spacingAndGlyphs">Приток покупок, получаемый за счет использования</text>
  <text x="115" y="537" textLength="235" lengthAdjust="spacingAndGlyphs">бесфразных таргетингов</text>
  <text x="76" y="576">2.</text>
  <text x="115" y="576" textLength="503" lengthAdjust="spacingAndGlyphs">Эффективность размещения в виде покупок и дохода</text>
  <text x="76" y="612.5">3.</text>
  <text x="115" y="612.5" textLength="362" lengthAdjust="spacingAndGlyphs">Удержание целевого CPS при условии</text>
  <text x="115" y="636" textLength="497" lengthAdjust="spacingAndGlyphs">масштабирования эффективных логик и сокращения</text>
  <text x="115" y="659.3" textLength="464" lengthAdjust="spacingAndGlyphs">бюджета на методики с низкой конверсией после</text>
  <text x="115" y="682.2" textLength="460" lengthAdjust="spacingAndGlyphs">прохождения нескольких итераций оптимизации</text>
</g>

<!-- donut -->
<g id="donut">
  <path d="M898.16 201.76 A244 244 0 0 1 1246.44 316.27 L1190.70 340.05 A183.4 183.4 0 0 0 928.92 253.98 Z" fill="#353a1f" stroke="#353a1f" stroke-width="0.6"/>
  <path d="M1246.44 316.27 A244 244 0 0 1 869.77 602.69 L907.58 555.33 A183.4 183.4 0 0 0 1190.70 340.05 Z" fill="#fdd422" stroke="#fdd422" stroke-width="0.6"/>
  <path d="M869.77 602.69 A244 244 0 0 1 851.89 586.93 L894.14 543.48 A183.4 183.4 0 0 0 907.58 555.33 Z" fill="#a6a6a6" stroke="#a6a6a6" stroke-width="0.6"/>
  <path d="M851.89 586.93 A244 244 0 0 1 835.36 569.17 L881.71 530.13 A183.4 183.4 0 0 0 894.14 543.48 Z" fill="#d9d9d9" stroke="#d9d9d9" stroke-width="0.6"/>
  <path d="M835.36 569.17 A244 244 0 0 1 819.71 548.44 L869.95 514.56 A183.4 183.4 0 0 0 881.71 530.13 Z" fill="#7030a0" stroke="#7030a0" stroke-width="0.6"/>
  <path d="M819.71 548.44 A244 244 0 0 1 792.57 495.05 L849.55 474.43 A183.4 183.4 0 0 0 869.95 514.56 Z" fill="#12aeea" stroke="#12aeea" stroke-width="0.6"/>
  <path d="M792.57 495.05 A244 244 0 0 1 780.20 444.69 L840.25 436.57 A183.4 183.4 0 0 0 849.55 474.43 Z" fill="#10ae4f" stroke="#10ae4f" stroke-width="0.6"/>
  <path d="M780.20 444.69 A244 244 0 0 1 811.98 287.79 L864.14 318.64 A183.4 183.4 0 0 0 840.25 436.57 Z" fill="#de5f4c" stroke="#de5f4c" stroke-width="0.6"/>
  <path d="M811.98 287.79 A244 244 0 0 1 898.16 201.76 L928.92 253.98 A183.4 183.4 0 0 0 864.14 318.64 Z" fill="#f46cc0" stroke="#f46cc0" stroke-width="0.6"/>
</g>

<text x="909" y="421.6" fill="#363a1e" stroke="#363a1e" stroke-width="2" stroke-linejoin="round" font-weight="bold" font-size="49" textLength="221.5" lengthAdjust="spacingAndGlyphs">Сплит РК</text>

<!-- leader lines -->
<g stroke="#a6a6a6" stroke-width="1.2" fill="none">
  <path d="M1075.9 140.2 L1088.5 209.2"/>
  <path d="M841.4 180.3 L849.3 180.3 L870.5 260.7"/>
  <path d="M775 304 L783 304 L812.5 369.7"/>
  <path d="M753.3 451.3 L760.9 451.3 L814.3 464.1"/>
  <path d="M754.2 534.3 L762.4 534.3 L831 510.5"/>
  <path d="M776.8 599.9 L783.8 599.9 L850.9 541.9"/>
  <path d="M811.9 665 L818.8 665 L865.2 558.9"/>
  <path d="M918.1 681.3 L885.9 586.7"/>
  <path d="M1169.7 679.5 L1151.6 583"/>
</g>

<!-- labels -->
<g font-weight="bold" font-size="20" text-anchor="start" stroke-width="0.7" stroke-linejoin="round">
  <text x="988" y="132.5" fill="#383838" stroke="#383838" textLength="176" lengthAdjust="spacingAndGlyphs">Поиск - DSA 27,1%</text>
  <text x="723.3" y="175.8" fill="#e57cc0" stroke="#e57cc0" textLength="109" lengthAdjust="spacingAndGlyphs">Поиск - Гео</text>
  <text x="755" y="195.2" fill="#e57cc0" stroke="#e57cc0" textLength="44.5" lengthAdjust="spacingAndGlyphs">8,1%</text>
  <text x="621.8" y="299.2" fill="#d9604c" stroke="#d9604c" textLength="140.5" lengthAdjust="spacingAndGlyphs">Поиск - Общие</text>
  <text x="630.5" y="318.5" fill="#d9604c" stroke="#d9604c" textLength="123.3" lengthAdjust="spacingAndGlyphs">ключи 10,6%</text>
  <text x="635.8" y="436.6" fill="#1aa450" stroke="#1aa450" textLength="71" lengthAdjust="spacingAndGlyphs">Поиск -</text>
  <text x="612.9" y="456.5" fill="#1aa450" stroke="#1aa450" textLength="117" lengthAdjust="spacingAndGlyphs">Конкуренты</text>
  <text x="645.8" y="475.7" fill="#1aa450" stroke="#1aa450" textLength="49" lengthAdjust="spacingAndGlyphs">3,4%</text>
  <text x="652.6" y="519.9" fill="#1ba9e0" stroke="#1ba9e0" textLength="71" lengthAdjust="spacingAndGlyphs">Поиск -</text>
  <text x="626.6" y="539.5" fill="#1ba9e0" stroke="#1ba9e0" textLength="122" lengthAdjust="spacingAndGlyphs">Продуковый</text>
  <text x="631.8" y="559.3" fill="#1ba9e0" stroke="#1ba9e0" textLength="110" lengthAdjust="spacingAndGlyphs">бренд 3,9%</text>
  <text x="654" y="595.3" fill="#7030a0" stroke="#7030a0" textLength="70" lengthAdjust="spacingAndGlyphs">Поиск -</text>
  <text x="608.9" y="613.6" fill="#7030a0" stroke="#7030a0" textLength="162.7" lengthAdjust="spacingAndGlyphs">Ретаргетинг 1,7%</text>
  <text x="680.7" y="660" fill="#c8c8c8" stroke="#c8c8c8" textLength="125.6" lengthAdjust="spacingAndGlyphs">Сеть - Общие</text>
  <text x="688.4" y="679.4" fill="#c8c8c8" stroke="#c8c8c8" textLength="109.6" lengthAdjust="spacingAndGlyphs">ключи 1,6%</text>
  <text x="829.8" y="698.7" fill="#7f7f7f" stroke="#7f7f7f" textLength="176.7" lengthAdjust="spacingAndGlyphs">Сеть - Ретаргетинг</text>
  <text x="896" y="718" fill="#7f7f7f" stroke="#7f7f7f" textLength="44.2" lengthAdjust="spacingAndGlyphs">1,6%</text>
  <text x="1083.3" y="697.5" fill="#f2c417" stroke="#f2c417" textLength="173.4" lengthAdjust="spacingAndGlyphs">МК - Отели 42,0%</text>
</g>

<!-- logo -->
<g id="logo">
  <path d="M1210.7 64.0 A15.8 15.8 0 0 1 1242.3 64.0 Z" fill="#231f20"/>
  <path d="M1215.10 63.50 A11.4 11.4 0 0 1 1235.72 56.80" stroke="#fff" stroke-width="2.9" fill="none"/>
  <path d="M1233.6 59.8 L1241.2 57.6 L1238.6 64.8 Z" fill="#fff"/>
  <path d="M1219.3 64.0 A7.2 7.2 0 0 1 1233.7 64.0 Z" fill="#fff"/>
  <rect x="1188" y="63.5" width="76" height="59" rx="6.5" fill="#231f20"/>
  <g fill="#fff" stroke="#fff" stroke-width="0.8" font-weight="bold">
    <text x="1192.3" y="82.8" font-size="22" stroke-width="1" textLength="67.2" lengthAdjust="spacingAndGlyphs">ONE TWO</text>
    <text x="1192.5" y="116.8" font-size="41.5" stroke-width="1.5" textLength="68.3" lengthAdjust="spacingAndGlyphs">TRIP!</text>
  </g>
</g>
</svg>
</body></html>
